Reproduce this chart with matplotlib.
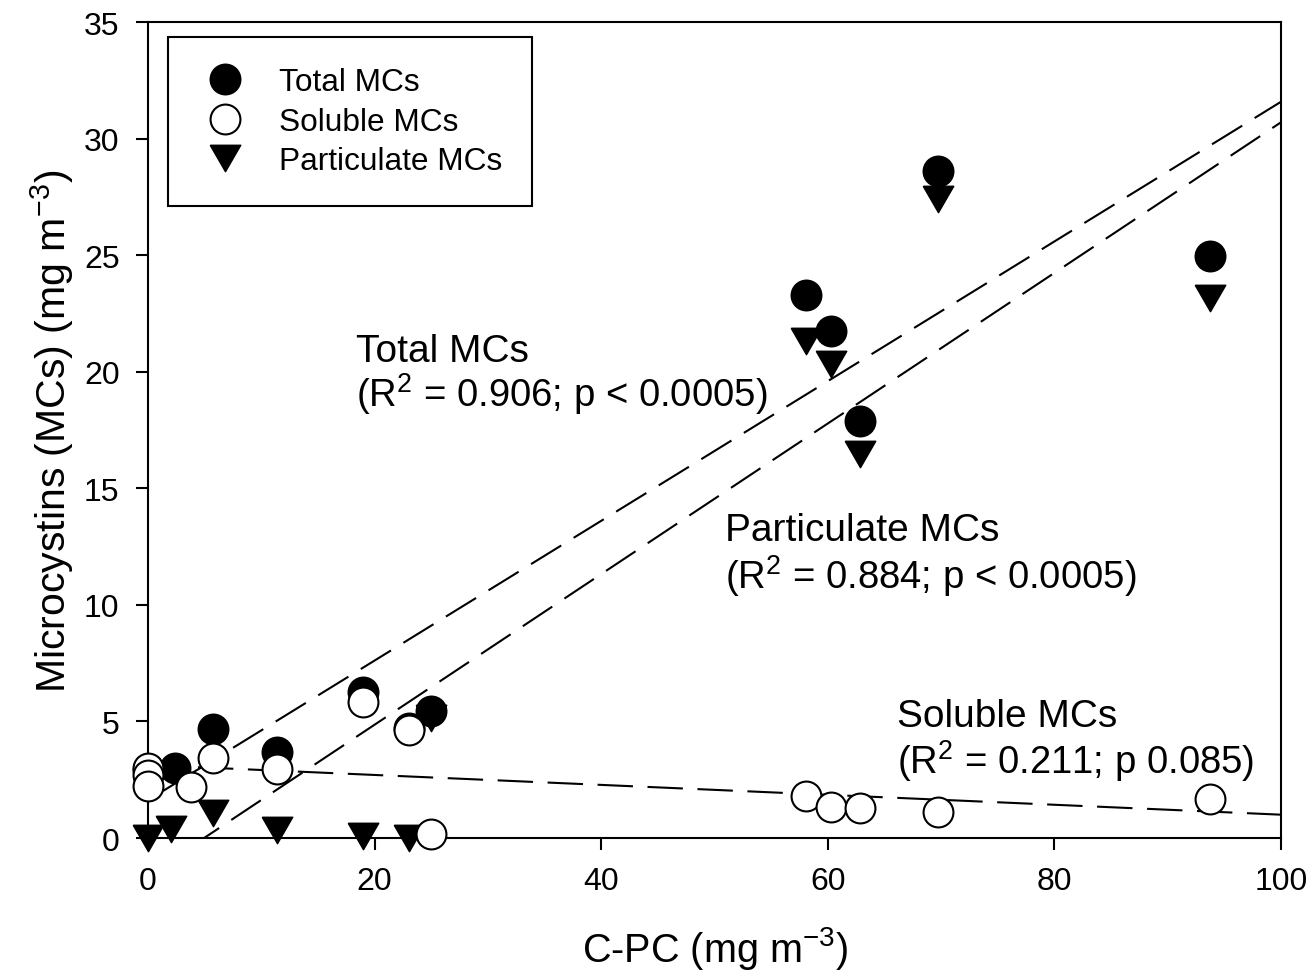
import numpy as np
import matplotlib
matplotlib.use('Agg')
import matplotlib.pyplot as plt

# C-PC (mg m-3) vs microcystin fractions (mg m-3)
cpc_total = [0, 2.4, 5.7, 11.4, 19.0, 23.0, 25.0, 58.1, 60.3, 62.8, 69.7, 93.7]
total_mcs = [2.9, 3.0, 4.68, 3.68, 6.25, 4.7, 5.46, 23.27, 21.76, 17.9, 28.63, 24.98]

cpc_soluble = [0, 0, 0, 3.8, 5.7, 11.4, 19.0, 23.0, 25.0, 58.1, 60.3, 62.8, 69.7, 93.7]
soluble_mcs = [3.0, 2.7, 2.25, 2.2, 3.42, 2.96, 5.85, 4.63, 0.17, 1.79, 1.32, 1.27, 1.1, 1.67]

cpc_part = [0, 2.0, 5.7, 11.4, 19.0, 23.0, 25.0, 58.1, 60.3, 62.8, 69.7, 93.7]
part_mcs = [0.0, 0.39, 1.07, 0.36, 0.1, 0.0, 5.15, 21.32, 20.32, 16.46, 27.4, 23.15]

# linear regressions (slope, intercept)
fit_total = (0.2996, 1.62)
fit_part = (0.323, -1.60)
fit_soluble = (-0.0213, 3.13)

plt.rc('font', family='Liberation Sans', size=23)
plt.rc('mathtext', fontset='custom', rm='Liberation Sans')

fig, ax = plt.subplots(figsize=(13.12, 9.79), dpi=100)
fig.subplots_adjust(left=0.1128, right=0.9764, top=0.9765, bottom=0.1430)

xs = np.array([0, 100])
for slope, icpt in [fit_total, fit_part, fit_soluble]:
    ax.plot(xs, slope * xs + icpt, color='black', lw=1.5, dashes=(17, 7), zorder=1)

tri = [(-1, 0.866), (1, 0.866), (0, -0.866), (-1, 0.866)]

ax.plot(cpc_part, part_mcs, ls='none', marker=tri, ms=22, mfc='black', mec='black',
        mew=1, clip_on=False, zorder=3, label='Particulate MCs')
ax.plot(cpc_total, total_mcs, ls='none', marker='o', ms=21.5, mfc='black', mec='black',
        mew=1.5, clip_on=False, zorder=4, label='Total MCs')
ax.plot(cpc_soluble, soluble_mcs, ls='none', marker='o', ms=21.5, mfc='white', mec='black',
        mew=1.5, clip_on=False, zorder=5, label='Soluble MCs')

ax.set_xlim(0, 100)
ax.set_ylim(0, 35)
ax.set_xticks(range(0, 101, 20))
ax.set_yticks(range(0, 36, 5))
ax.tick_params(direction='out', length=8.5, width=1.5, labelsize=23, pad=12)
for sp in ax.spines.values():
    sp.set_linewidth(1.5)

ax.set_xlabel('C-PC (mg m$^{\\mathregular{-3}}$)', fontsize=28.5, labelpad=20)
ax.set_ylabel('Microcystins (MCs) (mg m$^{\\mathregular{-3}}$)', fontsize=29.5, labelpad=6)

# regression annotations
ax.text(18.36, 20.46, 'Total MCs', fontsize=28)
ax.text(18.36, 18.53, '(R$^{\\mathregular{2}}$ = 0.906; p < 0.0005)', fontsize=27.5)
ax.text(50.93, 12.78, 'Particulate MCs', fontsize=28)
ax.text(50.93, 10.72, '(R$^{\\mathregular{2}}$ = 0.884; p < 0.0005)', fontsize=27.5)
ax.text(66.1, 4.8, 'Soluble MCs', fontsize=28)
ax.text(66.1, 2.79, '(R$^{\\mathregular{2}}$ = 0.211; p 0.085)', fontsize=27.5)

h, l = ax.get_legend_handles_labels()
order = [1, 2, 0]
leg = ax.legend([h[i] for i in order], [l[i] for i in order], loc='upper left',
                bbox_to_anchor=(0.0177, 0.9816), borderaxespad=0, fontsize=22.8,
                numpoints=1, handlelength=1.7, handletextpad=0.85, borderpad=0.95,
                labelspacing=0.3, fancybox=False, framealpha=1, edgecolor='black')
leg.get_frame().set_linewidth(1.5)

fig.savefig('out.png', dpi=100)
